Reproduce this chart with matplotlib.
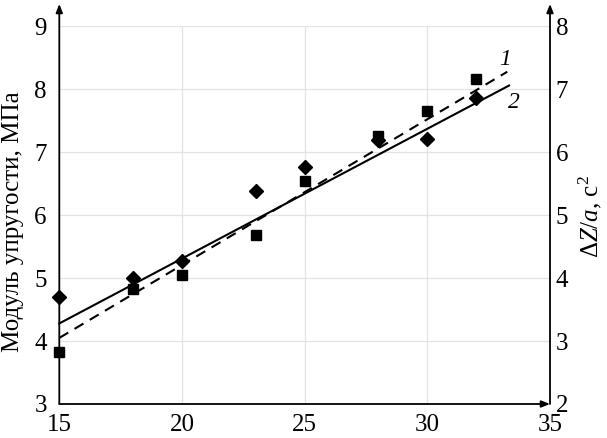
import matplotlib
matplotlib.use("Agg")
import matplotlib.pyplot as plt

plt.rcParams['font.family'] = ['Liberation Serif', 'DejaVu Serif']
plt.rcParams['mathtext.fontset'] = 'custom'
plt.rcParams['mathtext.rm'] = 'Liberation Serif'
plt.rcParams['mathtext.it'] = 'Liberation Serif:italic'

# Data
x_vals = [15, 18, 20, 23, 25, 28, 30, 32]
modulus = [4.70, 5.00, 5.28, 6.39, 6.77, 7.20, 7.21, 7.87]      # diamonds, left axis
dz_a = [2.83, 3.82, 4.05, 4.68, 5.55, 6.26, 6.66, 7.16]         # squares, right axis
trend2_x = [15, 33.33]
trend2_y = [4.28, 8.06]      # solid line (left axis)
trend1_x = [15, 33.26]
trend1_y = [3.05, 7.28]      # dashed line (right axis)

x_ticks = [15, 20, 25, 30, 35]
left_ticks = [3, 4, 5, 6, 7, 8, 9]
right_ticks = [2, 3, 4, 5, 6, 7, 8]

W, H = 607, 438
fig = plt.figure(figsize=(W / 100, H / 100), dpi=100)
x0, x1, y0, y1 = 59.3, 550.0, 404.0, 26.4
ax = fig.add_axes([x0 / W, 1 - y0 / H, (x1 - x0) / W, (y0 - y1) / H])
ax2 = ax.twinx()

ax.set_xlim(15, 35)
ax.set_ylim(3, 9)
ax2.set_ylim(2, 8)

for a in (ax, ax2):
    for s in a.spines.values():
        s.set_visible(False)

# grid
for yv in left_ticks[1:]:
    ax.axhline(yv, color='#e3e3e3', lw=0.9, zorder=0)
for xv in x_ticks[1:-1]:
    ax.axvline(xv, color='#e3e3e3', lw=0.9, zorder=0)

# axes with arrows
ext = (y0 - 4) / (y0 - y1)
arrow = dict(arrowstyle='-|>,head_length=0.5,head_width=0.2', color='black', lw=1.3,
             shrinkA=0, shrinkB=0)
ax.annotate('', xy=(0, ext), xytext=(0, 0), xycoords='axes fraction',
            arrowprops=arrow, annotation_clip=False)
ax.annotate('', xy=(1, ext), xytext=(1, 0), xycoords='axes fraction',
            arrowprops=arrow, annotation_clip=False)
ax.annotate('', xy=(1.0, 0), xytext=(0, 0), xycoords='axes fraction',
            arrowprops=arrow, annotation_clip=False)

# data
ax.plot(trend2_x, trend2_y, color='black', lw=1.5, zorder=3, clip_on=False)
ax2.plot(trend1_x, trend1_y, color='black', lw=1.5, ls=(0, (5, 3.5)), zorder=3, clip_on=False)
ax.plot(x_vals, modulus, ls='none', marker='D', ms=7.5, color='black', zorder=4, clip_on=False)
ax2.plot(x_vals, dz_a, ls='none', marker='s', ms=6.5, color='black', zorder=4, clip_on=False)

ax.text(33.15, 8.47, '1', fontsize=17, style='italic', ha='center', va='center')
ax.text(33.52, 7.79, '2', fontsize=17, style='italic', ha='center', va='center')

fs = 18
ax.set_xticks(x_ticks)
ax.set_yticks(left_ticks)
ax2.set_yticks(right_ticks)
ax.tick_params(axis='x', length=0, pad=7, labelsize=fs)
ax.tick_params(axis='y', length=0, pad=9, labelsize=fs)
ax2.tick_params(axis='y', length=0, pad=4, labelsize=fs)

fig.text(13 / W, 1 - 222 / H, 'Модуль упругости, МПа', rotation=90, fontsize=fs,
         ha='center', va='center')
fig.text(590 / W, 1 - 217 / H, r'$\Delta Z/a$, с$^2$', rotation=90, fontsize=fs,
         ha='center', va='center')

fig.savefig('out.png', dpi=100)
